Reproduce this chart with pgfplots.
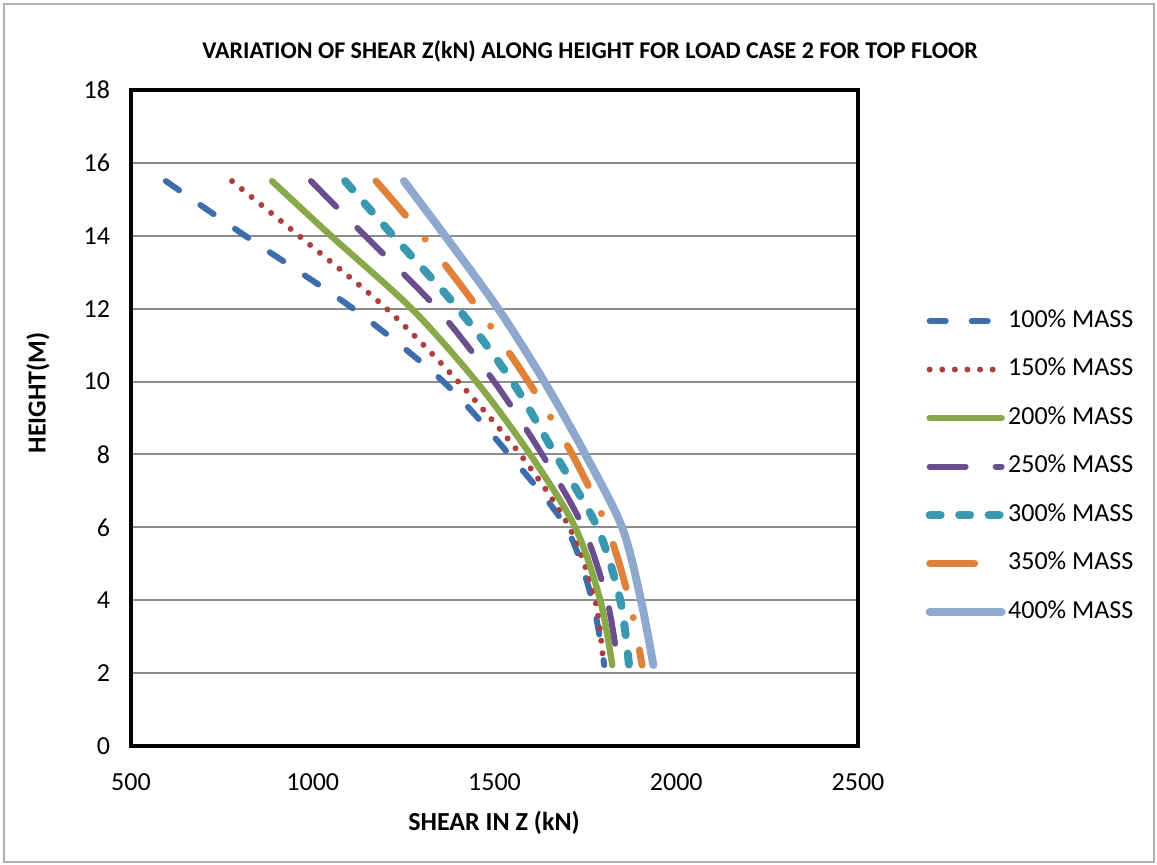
\documentclass[border=0pt]{standalone}
\usepackage{fontspec}
\setmainfont{Carlito}
\usepackage{pgfplots}
\pgfplotsset{compat=1.18}
\definecolor{cA}{HTML}{3D6DAA}
\definecolor{cB}{HTML}{AA3F3D}
\definecolor{cC}{HTML}{88A84A}
\definecolor{cD}{HTML}{6A4E8E}
\definecolor{cE}{HTML}{3A99B1}
\definecolor{cF}{HTML}{E0813A}
\definecolor{cG}{HTML}{8EA8CE}
\definecolor{gridgray}{HTML}{8C8C8C}
\begin{document}
\begin{tikzpicture}
\path[use as bounding box] (0,0) rectangle (578.5pt,432.5pt);
\draw[gray!60, line width=0.6pt] (2pt,1.5pt) rectangle (577pt,430.5pt);
\begin{axis}[
  at={(65.5pt,59.5pt)}, anchor=south west,
  scale only axis, width=363.5pt, height=328pt,
  xmin=500, xmax=2500, ymin=0, ymax=18,
  xtick={500,1000,...,2500}, ytick={0,2,...,18},
  major tick length=0pt,
  ymajorgrids, grid style={line width=1pt, color=gridgray},
  axis line style={line width=1.75pt, black},
  tick label style={font=\fontsize{13}{15}\selectfont},
  xticklabel style={yshift=-10.5pt}, yticklabel style={xshift=-7pt},
  /pgf/number format/assume math mode=true,
  /pgf/number format/set thousands separator={},
  legend style={at={(1.0925,0.426)}, anchor=west, draw=none, fill=none,
    inner sep=0pt, row sep=12.25pt,
    font=\fontsize{13}{15}\selectfont,
    nodes={inner xsep=1.25pt, inner ysep=0pt, text height=9pt, text depth=3pt}},
  legend cell align=left,
  legend image code/.code={\draw[#1] (0pt,0pt) -- (36pt,0pt);},
]
\addplot[cA, line width=3pt, line cap=round, dash pattern=on 8pt off 13pt, smooth] coordinates {
(596,15.5) (814,14) (1111,12) (1359,10) (1540,8) (1697,6) (1769,4) (1802,2.22)};
\addlegendentry{100\% MASS}
\addplot[cB, line width=3pt, line cap=round, dash pattern=on 0pt off 6.3pt, smooth] coordinates {
(778,15.5) (962,14) (1203,12) (1400,10) (1571,8) (1706,6) (1777,4) (1800,2.22)};
\addlegendentry{150\% MASS}
\addplot[cC, line width=3.2pt, line cap=round, smooth] coordinates {
(888,15.5) (1050,14) (1272,12) (1450,10) (1598,8) (1722,6) (1791,4) (1824,2.22)};
\addlegendentry{200\% MASS}
\addplot[cD, line width=3pt, line cap=round, dash pattern=on 18pt off 15pt, smooth] coordinates {
(995,15.5) (1144,14) (1342,12) (1499,10) (1631,8) (1744,6) (1810,4) (1840,2.22)};
\addlegendentry{250\% MASS}
\addplot[cE, line width=4pt, line cap=round, dash pattern=on 5.5pt off 9.25pt, smooth] coordinates {
(1089,15.5) (1221,14) (1400,12) (1549,10) (1667,8) (1783,6) (1846,4) (1870,2.22)};
\addlegendentry{300\% MASS}
\addplot[cF, line width=3.5pt, line cap=round, dash pattern=on 22.5pt off 15.5pt on 0pt off 16.5pt, smooth] coordinates {
(1174,15.5) (1302,14) (1455,12) (1593,10) (1714,8) (1810,6) (1871,4) (1906,2.22)};
\addlegendentry{350\% MASS}
\addplot[cG, line width=4pt, line cap=round, smooth] coordinates {
(1251,15.5) (1364,14) (1510,12) (1637,10) (1750,8) (1851,6) (1903,4) (1937,2.22)};
\addlegendentry{400\% MASS}
\end{axis}
\node[font=\bfseries\fontsize{12}{14}\selectfont] at (295pt,407pt) {VARIATION OF SHEAR Z(kN) ALONG HEIGHT FOR LOAD CASE 2 FOR TOP FLOOR};
\node[font=\bfseries\fontsize{13}{15}\selectfont] at (247pt,21pt) {SHEAR IN Z (kN)};
\node[font=\bfseries\fontsize{13}{15}\selectfont, rotate=90] at (19pt,236pt) {HEIGHT(M)};
\end{tikzpicture}
\end{document}
